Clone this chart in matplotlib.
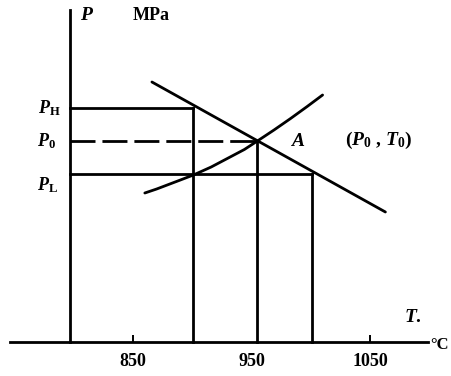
import matplotlib
matplotlib.use('Agg')
import matplotlib.pyplot as plt

plt.rcParams['font.family'] = ['Liberation Serif', 'DejaVu Serif']
plt.rcParams['font.weight'] = 'bold'
plt.rcParams['mathtext.fontset'] = 'custom'
plt.rcParams['mathtext.it'] = 'Liberation Serif:italic:bold'
plt.rcParams['mathtext.rm'] = 'Liberation Serif:bold'
plt.rcParams['mathtext.bf'] = 'Liberation Serif:bold'

# 读图得到的数值 (T 单位 °C, P 为示意刻度)
T_line = [866, 1063]            # 下降直线
P_line = [26.0, 13.0]
T_curve = [860, 870, 880, 890, 901, 916, 932, 944, 955, 969, 983, 997, 1010]   # 上升曲线
P_curve = [14.9, 15.3, 15.75, 16.2, 16.7, 17.5, 18.5, 19.25, 20.1, 21.2, 22.35, 23.55, 24.7]

T_axis = 797
T_H, T0, T_L = 901, 955, 1001
P_H, P0, P_L = 23.4, 20.1, 16.8

x_ticks = [850, 950, 1050]
x_tick_labels = ['850', '950', '1050']

fig = plt.figure(figsize=(4.52, 3.76), dpi=100)
ax = fig.add_axes([0, 0, 1, 1])
ax.set_xlim(737.8, 1119.2)
ax.set_ylim(-3.4, 34.2)

lw = 2.0
# 坐标轴
for s in ['top', 'right']:
    ax.spines[s].set_visible(False)
ax.spines['left'].set_position(('data', T_axis))
ax.spines['left'].set_bounds(0, 33.2)
ax.spines['bottom'].set_position(('data', 0))
ax.spines['bottom'].set_bounds(746, 1099)
for s in ['left', 'bottom']:
    ax.spines[s].set_linewidth(lw)
ax.set_yticks([])
ax.xaxis.remove_overlapping_locs = False
ax.set_xticks(x_ticks)
ax.set_xticklabels(x_tick_labels, fontsize=13, fontweight='bold')
ax.tick_params(axis='x', which='major', length=0, pad=8)
ax.set_xticks([850, 1050], minor=True)
ax.tick_params(axis='x', which='minor', direction='in', length=5, width=1.4)

# 曲线
ax.plot(T_line, P_line, color='black', lw=lw, solid_capstyle='round')
ax.plot(T_curve, P_curve, color='black', lw=lw, solid_capstyle='round',
        solid_joinstyle='round')

# 辅助线
ax.plot([T_axis, T_H], [P_H, P_H], color='black', lw=lw)
ax.plot([T_H, T_H], [0, P_H], color='black', lw=lw)
ax.plot([T_axis, T0], [P0, P0], color='black', lw=lw, dashes=(9, 2.5))
ax.plot([T0, T0], [0, P0], color='black', lw=lw)
ax.plot([T_axis, T_L], [P_L, P_L], color='black', lw=lw)
ax.plot([T_L, T_L], [0, P_L], color='black', lw=lw)

# 文字
ax.text(805, 32.6, r'$P$', fontsize=14, ha='left', va='center')
ax.text(865, 32.6, 'MPa', fontsize=13, fontweight='bold', ha='center', va='center')
ax.text(789, P_H, r'$P_{\rm H}$', fontsize=13, ha='right', va='center')
ax.text(785, P0, r'$P_0$', fontsize=13, ha='right', va='center')
ax.text(787, 15.7, r'$P_{\rm L}$', fontsize=13, ha='right', va='center')
ax.text(989, 20.0, r'$A$', fontsize=14, ha='center', va='center')
ax.text(1029, 20.2, r'($P_0$ , $T_0$)', fontsize=14, ha='left', va='center')
ax.text(1079, 2.4, r'$T$.', fontsize=14, ha='left', va='center')
ax.text(1101, -0.3, '°C', fontsize=12, ha='left', va='center')

fig.savefig('out.png', dpi=100)
